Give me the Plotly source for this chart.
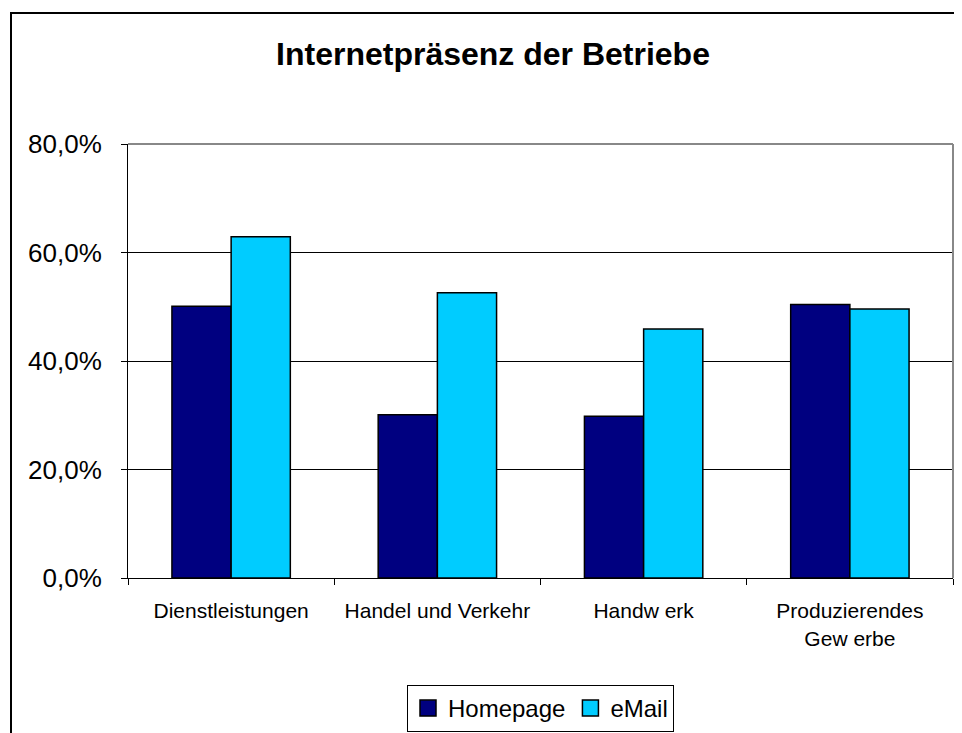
import plotly.graph_objects as go

categories = ["Dienstleistungen", "Handel und Verkehr", "Handw erk", "Produzierendes<br>Gew erbe"]
homepage = [50.1, 30.1, 29.8, 50.4]
email = [62.9, 52.6, 45.9, 49.6]
y_ticks = [0, 20, 40, 60, 80]
y_tick_labels = ["0,0%", "20,0%", "40,0%", "60,0%", "80,0%"]
series_names = ["Homepage", "eMail"]
series_colors = ["#000080", "#00CCFF"]

W, H = 962, 733
OFF = 8  # page offset of the figure inside the window
# target plot area in window pixels
PX0, PX1, PY0, PY1 = 128, 953, 144, 578
L = PX0 - OFF
T = PY0 - OFF
R = W - (PX1 - OFF)
B = H - (PY1 - OFF)
pw = W - L - R
ph = H - T - B

def px_x(x):
    return (x - OFF - L) / pw

def px_y(y):
    return (H - B - (y - OFF)) / ph

fig = go.Figure()
for name, vals, col in zip(series_names, [homepage, email], series_colors):
    fig.add_trace(go.Bar(x=categories, y=vals, name=name, showlegend=False, legendgroup=name,
                         marker=dict(color=col, line=dict(color="black", width=1.5))))
# legend entries with larger square swatches
for name, col in zip(series_names, series_colors):
    fig.add_trace(go.Scatter(x=[None], y=[None], mode="markers", name=name, legendgroup=name,
                             marker=dict(symbol="square", size=16, color=col,
                                         line=dict(color="black", width=1.5))))

fig.update_layout(
    width=W, height=H,
    margin=dict(l=L, r=R, t=T, b=B, autoexpand=False),
    paper_bgcolor="white", plot_bgcolor="white",
    font=dict(family="Liberation Sans, Arial, sans-serif", color="black"),
    barmode="group", bargap=0.426, bargroupgap=0,
    title=dict(text="<b>Internetpräsenz der Betriebe</b>", font=dict(size=32, color="black"),
               x=(493 - OFF) / W, xref="container", xanchor="center",
               y=1 - (54 - OFF) / H, yref="container", yanchor="middle"),
    showlegend=True,
    legend=dict(orientation="h", x=0.5, xanchor="center", y=px_y(685), yanchor="top",
                font=dict(size=24), bordercolor="black", borderwidth=1,
                traceorder="normal", bgcolor="white", itemwidth=30, itemsizing="trace"),
    xaxis=dict(type="category", showline=True, linecolor="black", linewidth=1,
               ticks="outside", tickson="boundaries", ticklen=6, tickcolor="black",
               tickfont=dict(size=21), showgrid=False, ticklabelstandoff=14),
    yaxis=dict(range=[0, 80], tickvals=y_ticks, ticktext=y_tick_labels,
               showline=True, linecolor="black", linewidth=1,
               ticks="outside", ticklen=6, tickcolor="black",
               tickfont=dict(size=26), showgrid=True, gridcolor="black", gridwidth=1,
               zeroline=False, ticklabelstandoff=14),
)

shapes = [
    # plot area top and right border (gray)
    dict(type="line", xref="paper", yref="paper", x0=0, x1=1, y0=1, y1=1,
         line=dict(color="#888888", width=2), layer="above"),
    dict(type="line", xref="paper", yref="paper", x0=1, x1=1, y0=0, y1=1,
         line=dict(color="#888888", width=2), layer="above"),
    # outer chart frame (black)
    dict(type="line", xref="paper", yref="paper", x0=px_x(11), x1=px_x(11), y0=px_y(12), y1=px_y(760),
         line=dict(color="black", width=2)),
    dict(type="line", xref="paper", yref="paper", x0=px_x(10), x1=px_x(990), y0=px_y(13), y1=px_y(13),
         line=dict(color="black", width=2)),
]
fig.update_layout(shapes=shapes)

fig.write_html("out.html")
